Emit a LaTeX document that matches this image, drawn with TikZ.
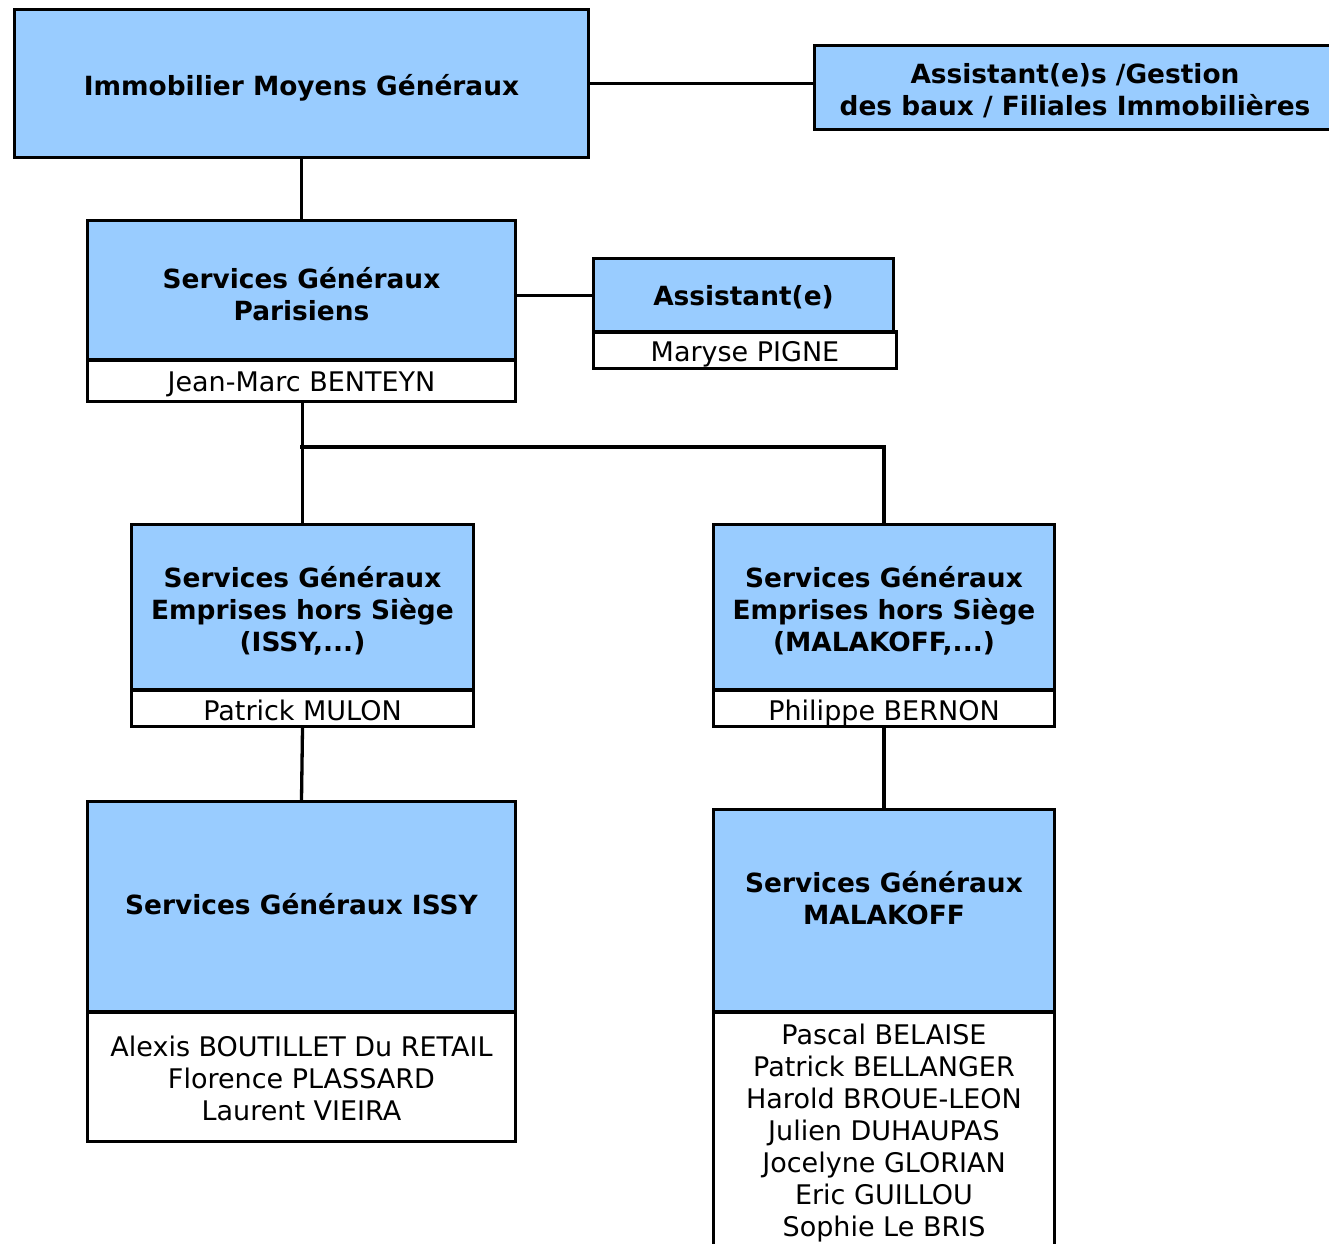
\documentclass[tikz,border=0pt]{standalone}
\usepackage{fontspec}
\setmainfont{DejaVu Sans}
\definecolor{sgblue}{HTML}{99CCFF}

\begin{document}
\begin{tikzpicture}[
  x=1pt, y=-1pt,
  line cap=rect, line join=miter,
  every node/.style={font=\fontsize{27}{32}\selectfont},
  bluebox/.style={draw, line width=3.3pt, fill=sgblue, align=center,
    inner sep=0pt, font=\fontsize{26.4}{32}\selectfont\bfseries},
  namebox/.style={draw, line width=3.3pt, fill=white, align=center, inner sep=0pt},
  % #1 = lines, #2 = shift of the text below the centre
  textat/.style 2 args={text depth=5pt, text height={32*(#1-1)+24.5+2*(#2)}},
  link/.style={line width=3.3pt}
]
\useasboundingbox (0,0) rectangle (1329,1243);

% direction
\node[bluebox, textat={1}{2.3}, minimum width=574, minimum height=148] (imm) at (301.5,83.5)
  {Immobilier Moyens Généraux};
\node[bluebox, textat={2}{1.8}, minimum width=521, minimum height=84] (gest) at (1075,87.5)
  {Assistant(e)s /Gestion\\des baux / Filiales Immobilières};

% services parisiens
\node[bluebox, textat={2}{4.8}, minimum width=428, minimum height=139.5] (paris) at (301.5,290.25)
  {Services Généraux\\Parisiens};
\node[namebox, textat={1}{1}, minimum width=428, minimum height=41.5] (parisname) at (301.5,380.75)
  {Jean-Marc BENTEYN};
\node[bluebox, textat={1}{0.5}, minimum width=300, minimum height=73.5] (assist) at (743.5,295.25)
  {Assistant(e)};
\node[namebox, textat={1}{1.8}, minimum width=303, minimum height=36.5] (assistname) at (745,350.25)
  {Maryse PIGNE};

% emprises hors siege
\node[bluebox, textat={3}{2.5}, minimum width=342, minimum height=165.5] (empissy) at (302.5,607.25)
  {Services Généraux\\Emprises hors Siège\\(ISSY,...)};
\node[namebox, textat={1}{2.6}, minimum width=342, minimum height=36.5] (empissyname) at (302.5,708.25)
  {Patrick MULON};
\node[bluebox, textat={3}{2.5}, minimum width=341, minimum height=165.5] (empmal) at (884,607.25)
  {Services Généraux\\Emprises hors Siège\\(MALAKOFF,...)};
\node[namebox, textat={1}{2.6}, minimum width=341, minimum height=36.5] (empmalname) at (884,708.25)
  {Philippe BERNON};

% sites
\node[bluebox, textat={1}{-2.5}, minimum width=428, minimum height=210.5] (issy) at (301.5,906.75)
  {Services Généraux ISSY};
\node[namebox, textat={3}{1.5}, minimum width=428, minimum height=129.5] (issyname) at (301.5,1076.75)
  {Alexis BOUTILLET Du RETAIL\\Florence PLASSARD\\Laurent VIEIRA};
\node[bluebox, textat={2}{-11.75}, minimum width=341, minimum height=202.5] (mal) at (884,910.75)
  {Services Généraux\\MALAKOFF};
\node[namebox, textat={7}{0}, minimum width=341, minimum height=238] (malname) at (884,1131)
  {Pascal BELAISE\\Patrick BELLANGER\\Harold BROUE-LEON\\Julien DUHAUPAS\\%
   Jocelyne GLORIAN\\Eric GUILLOU\\Sophie Le BRIS};

% liaisons
\coordinate (split) at (302,447);
\draw[link] (imm.east) -- (imm.east -| gest.west);
\draw[link] (imm.south) -- (paris.north);
\draw[link] (assist.west) -- (assist.west -| paris.east);
\draw[link] (empissy.north |- parisname.south) -- (empissy.north);
\draw[link] (split) -| (empmal.north);
\draw[link] (empissyname.south) -- (issy.north);
\draw[link] (empmalname.south) -- (mal.north);
\end{tikzpicture}
\end{document}
